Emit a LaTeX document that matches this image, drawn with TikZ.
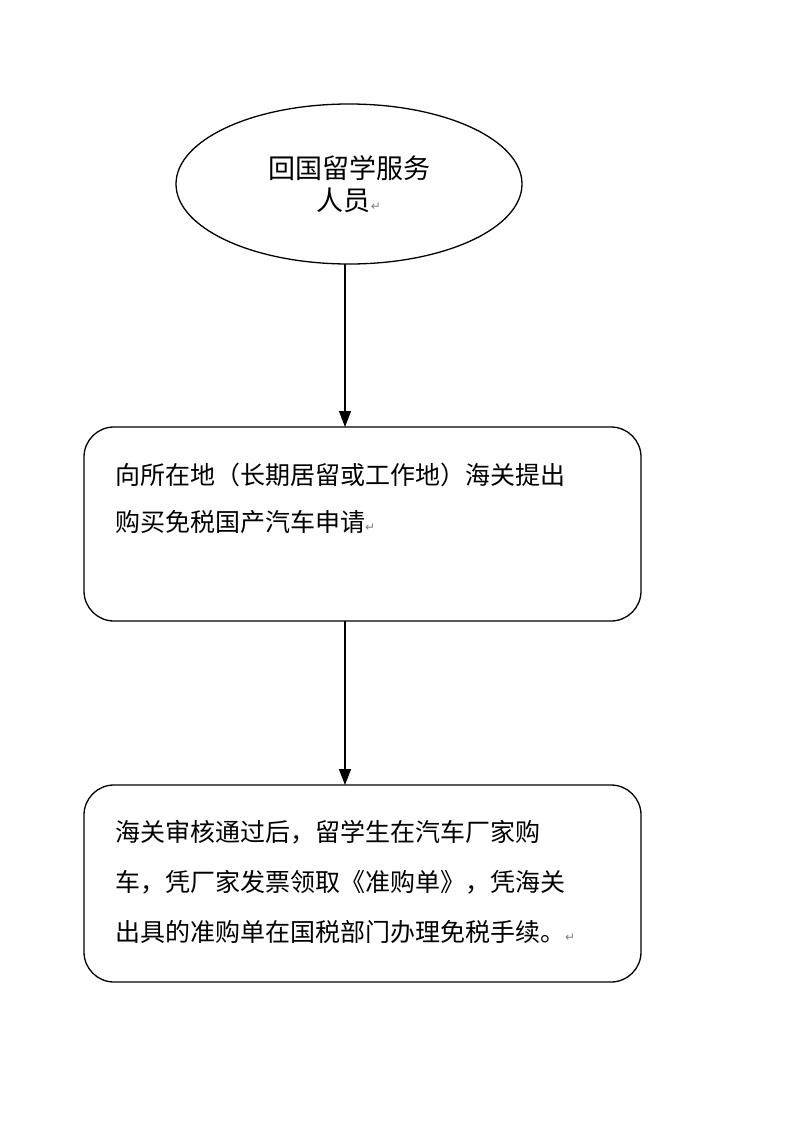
\documentclass[tikz,border=0pt]{standalone}
\usepackage{fontspec}
\setmainfont{Noto Sans CJK SC}
\newfontfamily\djv{DejaVu Sans}
\usetikzlibrary{shapes.geometric,arrows.meta}
\tikzset{
  box/.style={draw,line width=1.3pt,rounded corners=30pt},
  txt/.style={anchor=west,inner sep=0pt,font=\fontsize{25}{30}\selectfont},
  arr/.style={-{Triangle[length=16pt,width=12pt]},line width=1.3pt},
  pm/.style={font=\djv\fontsize{11}{12}\selectfont,text=gray}
}
\newcommand{\pmark}{{\djv\fontsize{12}{12}\selectfont\color{gray}↵}}
\begin{document}
\begin{tikzpicture}[x=1pt,y=-1pt]
\useasboundingbox[fill=white] (0,0) rectangle (800,1140);
\node[draw,ellipse,line width=1.3pt,minimum width=346pt,minimum height=160pt] (e) at (349,184) {};
\node[font=\fontsize{27}{32}\selectfont,align=center] (et) at (349,184) {回国留学服务\\人员\pmark};
\draw[box] (84,427) rectangle (641,621);
\coordinate (b1t) at (345,427);
\coordinate (b1b) at (345,621);
\node[txt] (l1) at (115,475) {向所在地（长期居留或工作地）海关提出};
\node[txt] (l2) at (115,522) {购买免税国产汽车申请\pmark};
\draw[box] (84,785) rectangle (641,982);
\coordinate (b2t) at (345,785);
\node[txt] (m1) at (115,832) {海关审核通过后，留学生在汽车厂家购};
\node[txt] (m2) at (115,882) {车，凭厂家发票领取《准购单》，凭海关};
\node[txt] (m3) at (115,932) {出具的准购单在国税部门办理免税手续。\pmark};
\draw[arr] (345,264) -- (b1t);
\draw[arr] (b1b) -- (b2t);
\end{tikzpicture}
\end{document}
